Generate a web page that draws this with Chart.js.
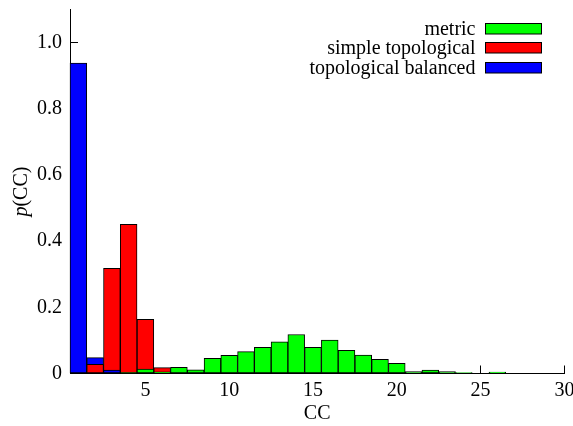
<!DOCTYPE html>
<html><head><meta charset="utf-8">
<script src="https://cdn.jsdelivr.net/npm/chart.js@4.4.0/dist/chart.umd.min.js"></script>
<style>html,body{margin:0;padding:0;background:#fff;}#wrap{width:573px;height:426px;}</style>
</head><body><div id="wrap"><canvas id="c" width="573" height="426"></canvas></div>
<script>
// ---- data ----
const ccValues = [1,2,3,4,5,6,7,8,9,10,11,12,13,14,15,16,17,18,19,20,21,22,23,24,25,26];
const metric = [0,0,0,0.002,0.013,0.005,0.019,0.011,0.046,0.055,0.066,0.079,0.096,0.118,0.079,0.101,0.070,0.056,0.043,0.031,0.006,0.010,0.006,0.003,0,0.004];
const simpleTopological = [0,0.028,0.318,0.451,0.164,0.018,0,0,0,0,0,0,0,0,0,0,0,0,0,0,0,0,0,0,0,0];
const topologicalBalanced = [0.938,0.048,0.010,0,0,0,0,0,0,0,0,0,0,0,0,0,0,0,0,0,0,0,0,0,0,0];
const seriesLabels = ['metric','simple topological','topological balanced'];
const seriesColors = ['#00ff00','#ff0000','#0000ff'];
const xTickValues = [5,10,15,20,25,30];
const xTickLabels = ['5','10','15','20','25','30'];
const yTickValues = [0,0.2,0.4,0.6,0.8,1.0];
const yTickLabels = ['0','0.2','0.4','0.6','0.8','1.0'];
const xTitle = 'CC';
const yTitleItalic = 'p';
const yTitleRest = '(CC)';

const FONT_FAMILY = '"Liberation Serif", "Times New Roman", serif';
const FONT_SIZE = 20;
Chart.defaults.font.family = FONT_FAMILY;
Chart.defaults.font.size = FONT_SIZE;
Chart.defaults.color = '#000';

const seriesData = [metric, simpleTopological, topologicalBalanced];
const datasets = seriesData.map((arr, s) => ({
  label: seriesLabels[s],
  data: ccValues.map((x, i) => ({x: x, y: arr[i]})),
  backgroundColor: seriesColors[s],
  borderColor: '#000',
  borderWidth: 1,
  borderSkipped: false,
  grouped: false,
  barPercentage: 1,
  categoryPercentage: 1
}));

// draw overlapping bars so that, in each bin, the shortest bar is in front
const overlapOrder = {
  id: 'overlapOrder',
  beforeDatasetsDraw(chart) {
    const ctx = chart.ctx, a = chart.chartArea;
    const items = [];
    chart.data.datasets.forEach((ds, i) => {
      const meta = chart.getDatasetMeta(i);
      meta.data.forEach((el, j) => { const v = ds.data[j].y; if (v > 0) items.push({el, v}); });
    });
    items.sort((p, q) => q.v - p.v);
    ctx.save();
    ctx.beginPath(); ctx.rect(a.left - 1, a.top - 1, a.width + 2, a.height + 2); ctx.clip();
    items.forEach(it => it.el.draw(ctx, a));
    ctx.restore();
    return false;
  }
};

const legendDraw = {
  id: 'legendDraw',
  afterDraw(chart) {
    const ctx = chart.ctx, a = chart.chartArea;
    ctx.save();
    ctx.font = FONT_SIZE + 'px ' + FONT_FAMILY;
    ctx.textAlign = 'right';
    ctx.textBaseline = 'alphabetic';
    const boxW = 56, boxH = 10.5;
    const boxLeft = Math.round(a.right - 23 - boxW) + 0.5;
    chart.data.datasets.forEach((ds, i) => {
      const cy = a.top + 18.4 + i * 19.6;
      const top = Math.round(cy - boxH / 2) + 0.5;
      ctx.fillStyle = ds.backgroundColor;
      ctx.fillRect(boxLeft, top, boxW, boxH);
      ctx.strokeStyle = '#000'; ctx.lineWidth = 1;
      ctx.strokeRect(boxLeft, top, boxW, boxH);
      ctx.fillStyle = '#000';
      ctx.fillText(ds.label, boxLeft - 10, cy + 6.5);
    });
    ctx.restore();
  }
};

const yTitleDraw = {
  id: 'yTitleDraw',
  afterDraw(chart) {
    const ctx = chart.ctx, a = chart.chartArea;
    ctx.save();
    const fItal = 'italic ' + FONT_SIZE + 'px ' + FONT_FAMILY;
    const fReg = FONT_SIZE + 'px ' + FONT_FAMILY;
    ctx.font = fItal; const w1 = ctx.measureText(yTitleItalic).width;
    ctx.font = fReg; const w2 = ctx.measureText(yTitleRest).width;
    const cx = 22, cy = (a.top + a.bottom) / 2;
    ctx.translate(cx, cy);
    ctx.rotate(-Math.PI / 2);
    ctx.textBaseline = 'middle';
    ctx.textAlign = 'left';
    ctx.fillStyle = '#000';
    const x0 = -(w1 + w2) / 2;
    ctx.font = fItal; ctx.fillText(yTitleItalic, x0, 0);
    ctx.font = fReg; ctx.fillText(yTitleRest, x0 + w1, 0);
    ctx.restore();
  }
};

new Chart(document.getElementById('c'), {
  type: 'bar',
  data: { datasets },
  plugins: [overlapOrder, legendDraw, yTitleDraw],
  options: {
    responsive: false,
    animation: false,
    devicePixelRatio: 1,
    layout: { padding: { left: 0, right: 8.6, top: 9.6, bottom: 0 } },
    plugins: { legend: { display: false }, tooltip: { enabled: false } },
    scales: {
      x: {
        type: 'linear',
        offset: false,
        min: 0.5,
        max: 30,
        afterBuildTicks: s => { s.ticks = xTickValues.map(v => ({value: v})); },
        afterFit: s => { s.height = 52.5; s.paddingLeft = 0; s.paddingRight = 0; },
        ticks: { padding: 12.8, maxRotation: 0, autoSkip: false, color: '#000',
                 callback: (v, i) => xTickLabels[i] },
        grid: { offset: false, drawOnChartArea: false, drawTicks: true, tickLength: -8, tickColor: '#000', tickWidth: 1 },
        border: { display: true, color: '#000', width: 1 },
        title: { display: true, text: xTitle, color: '#000', padding: { top: 0, bottom: 0 } }
      },
      y: {
        min: 0,
        max: 1.1,
        afterBuildTicks: s => { s.ticks = yTickValues.map(v => ({value: v})); },
        afterFit: s => { s.width = 70; s.paddingTop = 0; s.paddingBottom = 0; },
        ticks: { padding: 16, color: '#000', callback: (v, i) => yTickLabels[i] },
        grid: { drawOnChartArea: false, drawTicks: true, tickLength: -8, tickColor: '#000', tickWidth: 1 },
        border: { display: true, color: '#000', width: 1 },
        title: { display: false }
      }
    }
  }
});
</script>
</body></html>
